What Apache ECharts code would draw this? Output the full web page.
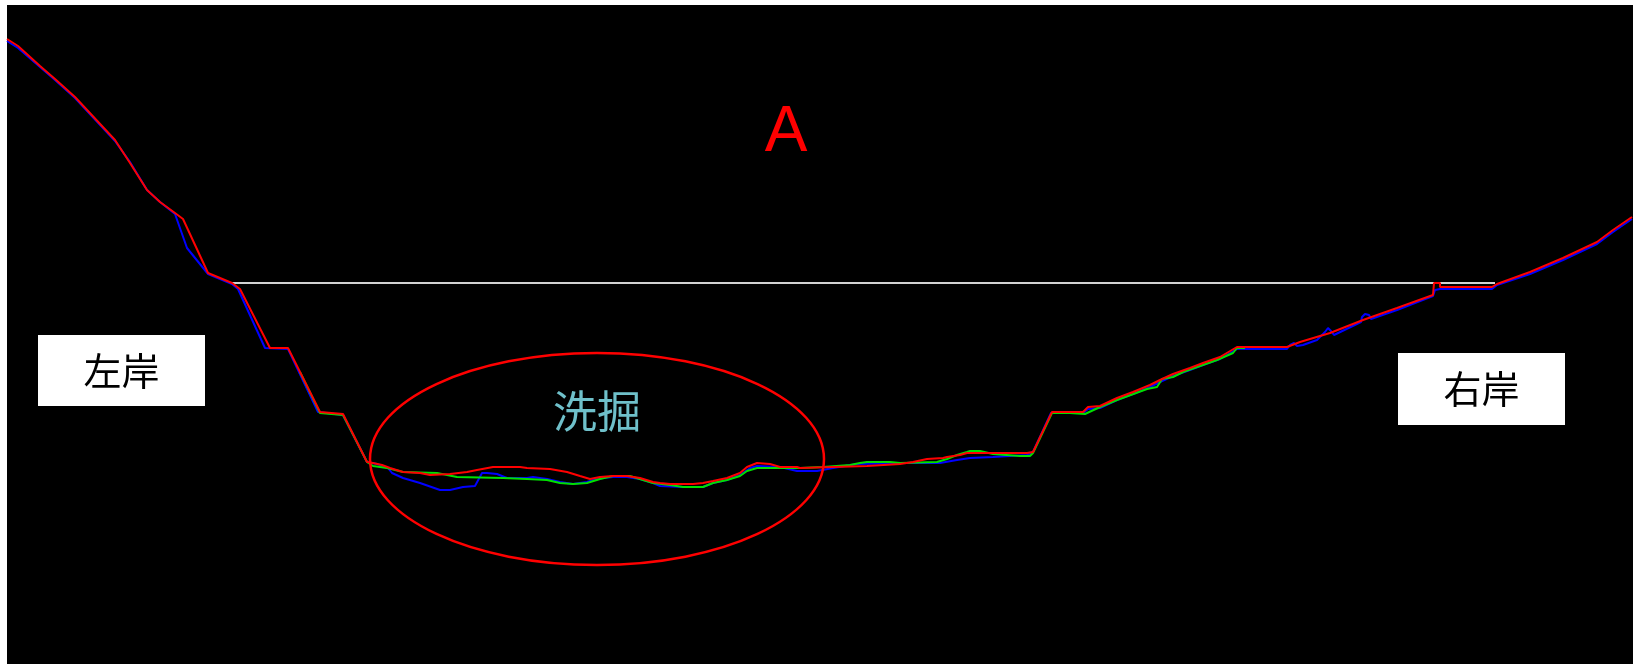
<!DOCTYPE html>
<html>
<head>
<meta charset="utf-8">
<script src="https://cdn.jsdelivr.net/npm/echarts@6/dist/echarts.min.js"></script>
<style>
  html, body { margin: 0; padding: 0; background: #ffffff; }
  #chart { width: 1643px; height: 664px; }
</style>
</head>
<body>
<div id="chart"></div>
<script>
// River cross-section: station (horizontal) vs depth below the reference datum.
// Three survey passes are overlaid; the scoured bed is circled.

const STATION_RANGE = [7, 1633];
const DEPTH_RANGE = [5, 664];

// Survey pass 1 (blue)
const surveyBlue = [
  [7,41],[18,48],[40,67],[55,80],[75,98],[115,141],[130,162],[147,190],[160,202],[175,214],
  [187,248],[208,274],[232,284],[238,289],[265,348],[288,349],[318,412],[343,415],[367,462],
  [377,464],[388,468],[392,473],[403,478],[420,483],[440,490],[450,490],[463,487],[475,486],
  [482,473],[487,473],[497,474],[507,478],[527,478],[533,477],[547,479],[560,482],[573,484],
  [587,482],[593,480],[603,478],[613,477],[627,477],[640,479],[653,483],[660,486],[683,487],
  [703,487],[713,483],[727,480],[740,475],[750,468],[757,466],[780,467],[797,471],[817,471],
  [833,468],[857,464],[900,463],[913,463],[940,463],[957,460],[970,458],[993,457],[1027,455],
  [1033,452],[1051,413],[1083,413],[1088,409],[1100,408],[1117,400],[1133,394],[1150,387],
  [1160,382],[1173,376],[1190,370],[1203,365],[1220,359],[1237,349],[1287,349],[1290,345],
  [1294,343],[1297,346],[1303,345],[1317,340],[1325,332],[1328,328],[1331,331],[1334,335],
  [1361,322],[1362,317],[1365,314],[1369,315],[1371,319],[1397,310],[1433,296],[1435,290],
  [1437,292],[1440,289],[1492,289],[1497,285],[1530,274],[1563,260],[1597,244],[1613,232],
  [1632,219]
];

// Survey pass 2 (green), bed section only
const surveyGreen = [
  [300,372],[320,413],[343,415],[367,462],[373,466],[387,468],[403,472],[437,473],[457,477],
  [503,478],[527,479],[547,480],[560,483],[573,484],[587,483],[600,479],[613,476],[630,476],
  [643,480],[653,483],[670,485],[683,487],[703,487],[713,483],[727,480],[740,476],[747,471],
  [757,468],[780,468],[800,468],[823,467],[850,465],[860,463],[867,462],[890,462],[900,463],
  [937,462],[947,459],[957,455],[967,452],[970,451],[980,451],[993,454],[1020,456],[1030,456],
  [1033,453],[1052,413],[1070,413],[1085,414],[1100,407],[1117,400],[1147,389],[1157,387],
  [1162,379],[1173,377],[1183,372],[1217,360],[1233,353],[1237,348],[1245,348]
];

// Survey pass 3 (red), latest
const surveyRed = [
  [7,39],[18,46],[40,66],[55,79],[75,97],[115,140],[130,163],[147,190],[160,202],[175,213],
  [183,219],[208,273],[232,283],[240,289],[270,348],[288,348],[320,412],[343,414],[367,462],
  [373,463],[382,465],[390,468],[403,472],[420,473],[430,475],[450,474],[467,472],[477,470],
  [493,467],[520,467],[527,468],[550,469],[567,472],[580,476],[590,479],[600,477],[613,476],
  [627,476],[640,478],[653,482],[660,483],[670,484],[693,484],[703,483],[713,481],[727,478],
  [740,473],[747,467],[757,463],[770,464],[780,467],[797,467],[800,468],[833,467],[867,466],
  [900,464],[913,462],[927,459],[943,458],[947,457],[960,455],[967,453],[980,453],[1027,453],
  [1028,451],[1033,452],[1052,412],[1083,412],[1088,407],[1100,406],[1117,398],[1133,392],
  [1150,385],[1160,380],[1173,374],[1190,368],[1203,363],[1220,357],[1237,347],[1287,347],
  [1300,342],[1330,333],[1363,320],[1397,308],[1433,295],[1434,283],[1440,283],[1440,287],
  [1492,287],[1497,284],[1530,272],[1563,258],[1597,242],[1613,230],[1632,217]
];

// Water surface
const waterLevel = [[232,283],[1495,283]];

// Annotations (in station / depth units)
const sectionTitle = { text: 'A', at: [786,133] };
const scourZone = { text: '洗掘', at: [597,411], center: [597,459], rx: 227, ry: 106 };
const bankLabels = [
  { text: '左岸', from: [38,335], to: [205,406] },
  { text: '右岸', from: [1398,353], to: [1565,425] }
];

const chart = echarts.init(document.getElementById('chart'), null, { renderer: 'canvas' });

function lineSeries(name, data, color, z) {
  return {
    name, type: 'line', data, z,
    showSymbol: false, symbol: 'none', animation: false, silent: true,
    lineStyle: { color, width: 2 }
  };
}

chart.setOption({
  backgroundColor: '#ffffff',
  animation: false,
  grid: {
    left: 7, right: 10, top: 5, bottom: 0,
    show: true, backgroundColor: '#000000', borderWidth: 0
  },
  xAxis: { type: 'value', min: STATION_RANGE[0], max: STATION_RANGE[1], show: false },
  yAxis: { type: 'value', min: DEPTH_RANGE[0], max: DEPTH_RANGE[1], inverse: true, show: false },
  series: [
    lineSeries('水面', waterLevel, '#d2d2d2', 1),
    lineSeries('測量1', surveyBlue, '#0000ff', 2),
    lineSeries('測量2', surveyGreen, '#00e000', 3),
    lineSeries('測量3', surveyRed, '#ff0000', 4)
  ]
});

function px(pt) { return chart.convertToPixel({ gridIndex: 0 }, pt); }

const graphics = [];
const c = px(scourZone.center);
const edge = px([scourZone.center[0] + scourZone.rx, scourZone.center[1] + scourZone.ry]);
graphics.push({
  type: 'ellipse', z: 10, silent: true,
  shape: { cx: c[0], cy: c[1], rx: Math.abs(edge[0] - c[0]), ry: Math.abs(edge[1] - c[1]) },
  style: { fill: null, stroke: '#ff0000', lineWidth: 2.5 }
});
const sp = px(scourZone.at);
graphics.push({
  type: 'text', z: 11, silent: true, x: sp[0], y: sp[1],
  style: { text: scourZone.text, fill: '#6fc0ca', font: '44px "Noto Sans CJK JP"', align: 'center', verticalAlign: 'middle' }
});
const tp = px(sectionTitle.at);
graphics.push({
  type: 'text', z: 11, silent: true, x: tp[0], y: tp[1],
  style: { text: sectionTitle.text, fill: '#ff0000', font: '64px "Liberation Sans"', align: 'center', verticalAlign: 'middle' }
});
bankLabels.forEach(b => {
  const a = px(b.from), d = px(b.to);
  graphics.push({
    type: 'rect', z: 11, silent: true,
    shape: { x: a[0], y: a[1], width: d[0] - a[0], height: d[1] - a[1] },
    style: { fill: '#ffffff' }
  });
  graphics.push({
    type: 'text', z: 12, silent: true, x: (a[0] + d[0]) / 2, y: (a[1] + d[1]) / 2,
    style: { text: b.text, fill: '#000000', font: '38px "Noto Sans CJK JP"', align: 'center', verticalAlign: 'middle' }
  });
});
chart.setOption({ graphic: graphics });
</script>
</body>
</html>
